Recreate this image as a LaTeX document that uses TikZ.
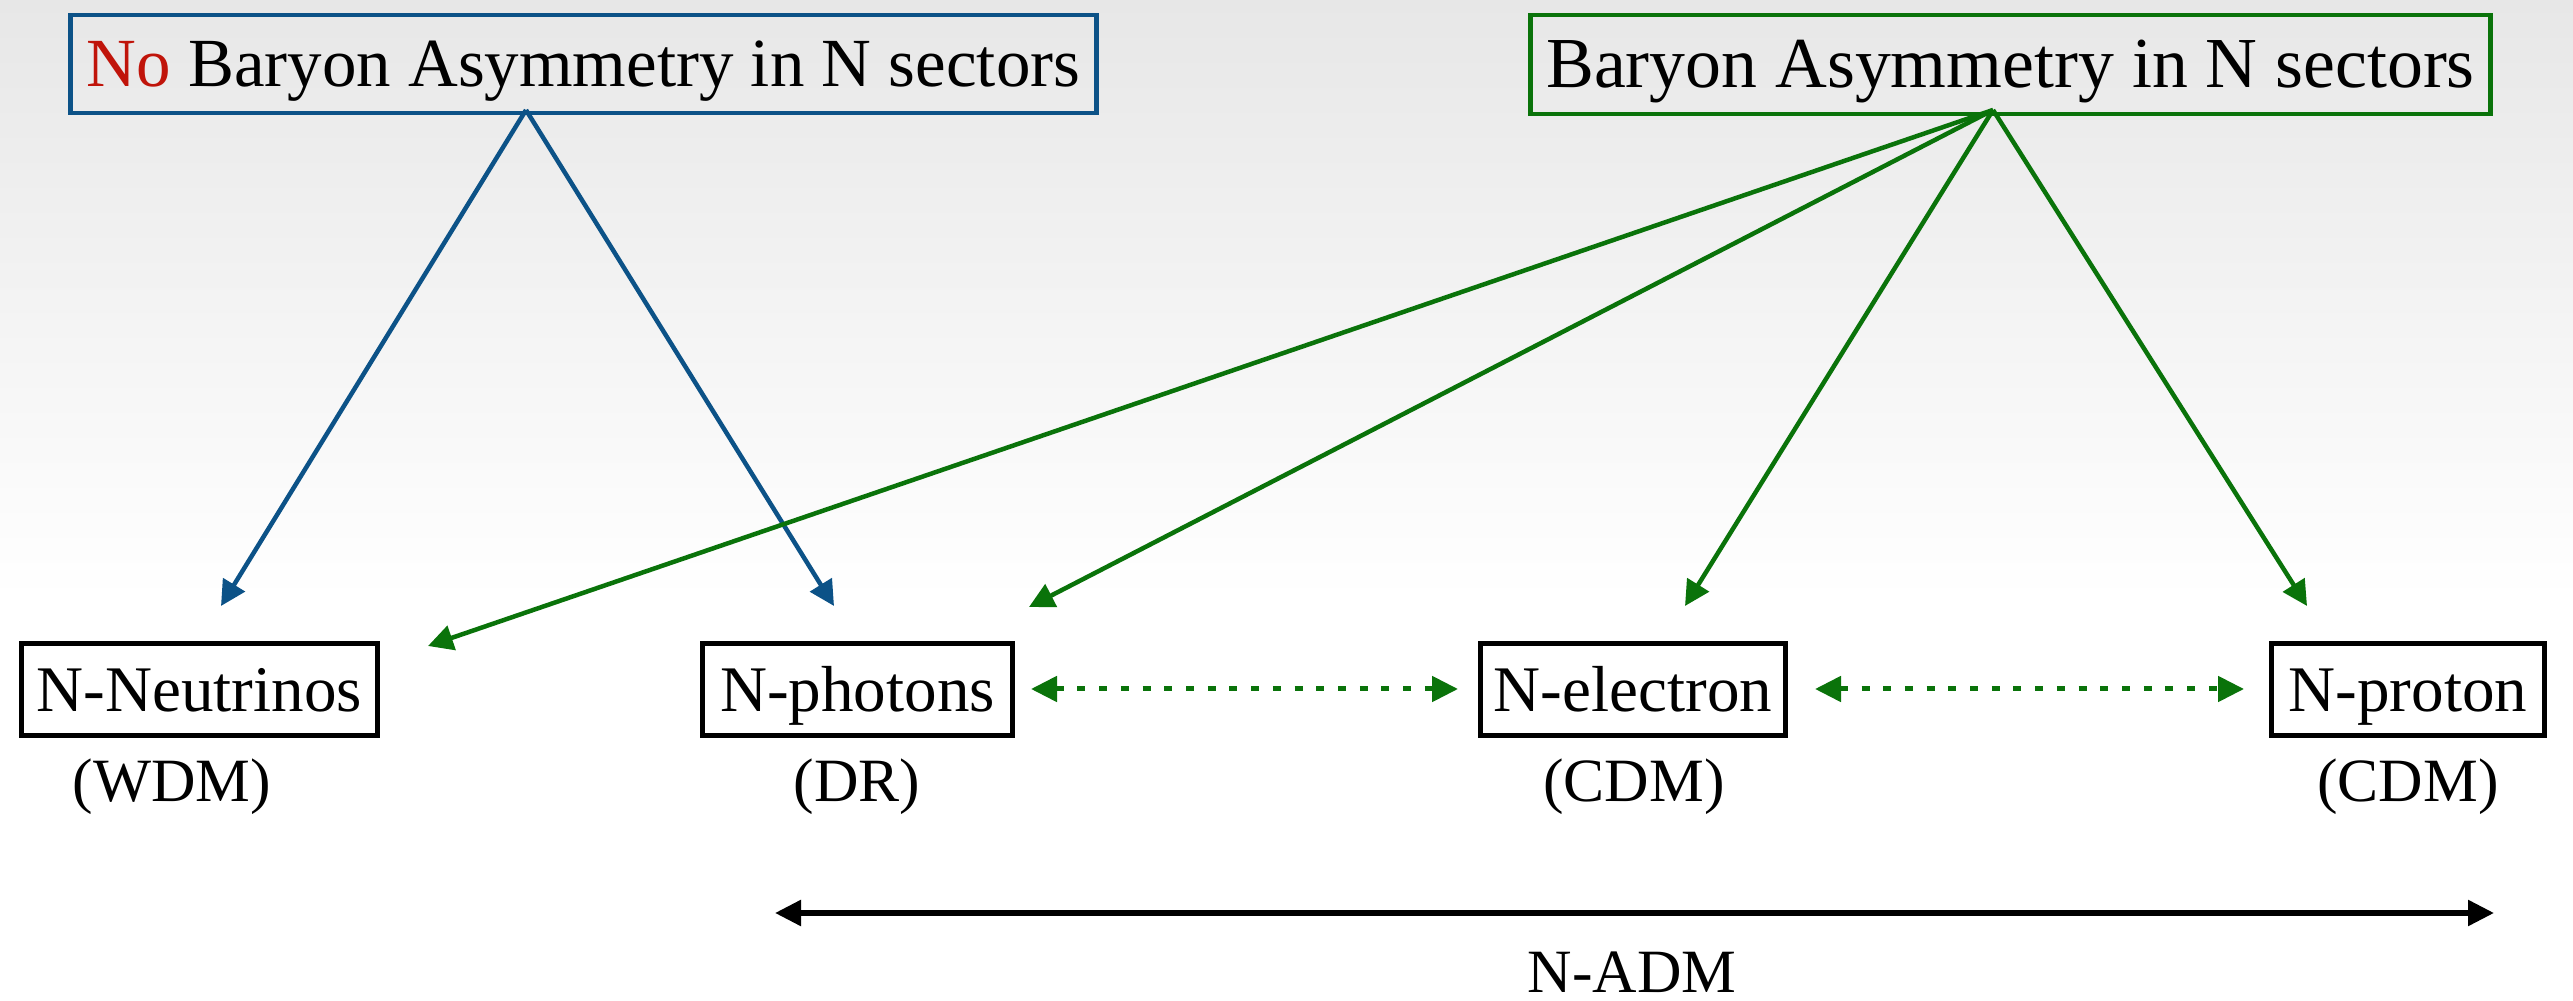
\documentclass[tikz,border=0pt]{standalone}
\usepackage{fontspec}
\setmainfont{Liberation Serif}
\usetikzlibrary{arrows.meta}
\definecolor{nblue}{RGB}{12,82,135}
\definecolor{ngreen}{RGB}{10,115,10}
\definecolor{nred}{RGB}{192,20,10}
\definecolor{bgtop}{RGB}{231,231,231}
\begin{document}
\begin{tikzpicture}[x=0.01cm,y=-0.01cm,
 topbox/.style={draw, line width=0.045cm, inner sep=0pt, text height=12.9pt, text depth=0pt},
 partbox/.style={draw=black, line width=0.05cm, inner sep=0pt, font=\fontsize{18.5}{19}\selectfont, text height=12.25pt, text depth=0pt, minimum height=0.92cm},
 lbl/.style={anchor=base, inner sep=0pt, font=\fontsize{17.5}{18}\selectfont},
 feed/.style={line width=0.045cm, -{Triangle[length=0.25cm,width=0.25cm]}},
 link/.style={ngreen, line width=0.05cm, dash pattern=on 0.08cm off 0.137cm, {Triangle[length=0.26cm,width=0.25cm]}-{Triangle[length=0.26cm,width=0.25cm]}},
 span/.style={black, line width=0.055cm, {Triangle[length=0.26cm,width=0.25cm]}-{Triangle[length=0.26cm,width=0.25cm]}}
]
\useasboundingbox (0,0) rectangle (2573,1001);
\fill[white] (0,0) rectangle (2573,1001);
\shade[top color=bgtop, bottom color=white] (0,0) rectangle (2573,600);

% top boxes
\node[topbox, draw=nblue, font=\fontsize{19.6}{20}\selectfont, minimum width=10.25cm, minimum height=0.98cm] (noasym) at (583.5,64) {\textcolor{nred}{No} Baryon Asymmetry in N sectors};
\node[topbox, draw=ngreen, font=\fontsize{20.4}{21}\selectfont, minimum width=9.59cm, minimum height=0.99cm] (asym) at (2010.5,64.5) {Baryon Asymmetry in N sectors};

% particle boxes
\node[partbox, minimum width=3.55cm] (nu) at (199.5,689.5) {N-Neutrinos};
\node[partbox, minimum width=3.09cm] (ph) at (857.5,689.5) {N-photons};
\node[partbox, minimum width=3.04cm] (el) at (1633,689.5) {N-electron};
\node[partbox, minimum width=2.72cm] (pr) at (2408,689.5) {N-proton};

% labels
\node[lbl] (wdm) at (172,802) {(WDM)};
\node[lbl] (dr) at (857,802) {(DR)};
\node[lbl] (cdme) at (1634,802) {(CDM)};
\node[lbl] (cdmp) at (2408,802) {(CDM)};
\node[lbl] (adm) at (1632,992) {N-ADM};

% coordinates
\coordinate (aL) at (526,110);
\coordinate (aR) at (1993,110);
\coordinate (nuB) at (221,606);
\coordinate (phB) at (834,606);
\coordinate (nuG) at (428,646);
\coordinate (phG) at (1029,607);
\coordinate (elG) at (1685,606);
\coordinate (prG) at (2307,606);
\coordinate (d1a) at (1031,689);
\coordinate (d1b) at (1458,689);
\coordinate (d2a) at (1815,689);
\coordinate (d2b) at (2244,689);
\coordinate (b1) at (775,913);
\coordinate (b2) at (2494,913);

% arrows
\draw[feed, nblue] (aL) -- (nuB);
\draw[feed, nblue] (aL) -- (phB);
\draw[feed, ngreen] (aR) -- (nuG);
\draw[feed, ngreen] (aR) -- (phG);
\draw[feed, ngreen] (aR) -- (elG);
\draw[feed, ngreen] (aR) -- (prG);

\draw[link] (d1a) -- (d1b);
\draw[link] (d2a) -- (d2b);

\draw[span] (b1) -- (b2);
\end{tikzpicture}
\end{document}
